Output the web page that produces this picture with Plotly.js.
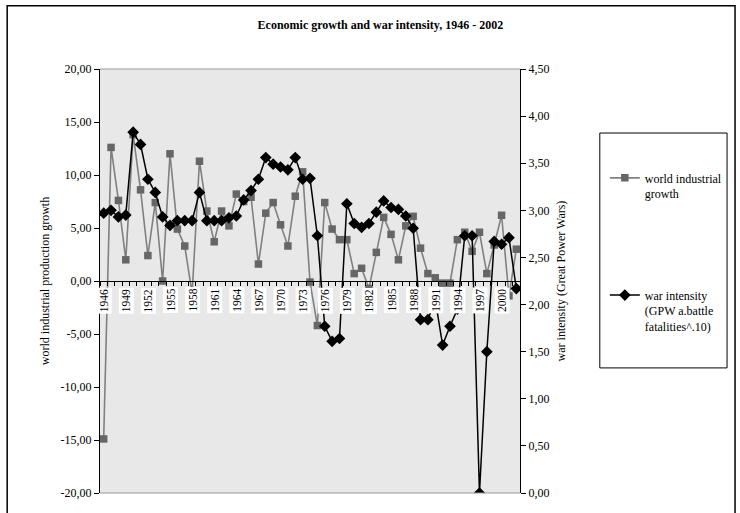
<!DOCTYPE html>
<html><head><meta charset="utf-8">
<script src="https://cdn.plot.ly/plotly-3.0.1.min.js"></script>
<style>html,body{margin:0;padding:0;background:#fff}</style>
</head><body>
<div id="chart" style="width:740px;height:513px"></div>
<script>
const years = ['1946','1947','1948','1949','1950','1951','1952','1953','1954','1955','1956','1957','1958','1959',
'1960','1961','1962','1963','1964','1965','1966','1967','1968','1969','1970','1971','1972','1973','1974','1975',
'1976','1977','1978','1979','1980','1981','1982','1983','1984','1985','1986','1987','1988','1989','1990','1991',
'1992','1993','1994','1995','1996','1997','1998','1999','2000','2001','2002'];
const growth = [-14.9,12.6,7.6,2.0,13.8,8.6,2.4,7.4,0.0,12.0,4.9,3.3,-1.2,11.3,
6.6,3.7,6.6,5.2,8.2,7.5,7.9,1.6,6.4,7.4,5.3,3.3,8.0,10.3,-0.1,-4.2,
7.4,4.9,3.9,3.9,0.7,1.2,-0.7,2.7,6.0,4.4,2.0,5.2,6.1,3.1,0.7,0.3,
-0.2,-0.2,3.9,4.6,2.8,4.6,0.7,3.4,6.2,-1.4,3.0];
const war = [2.97,3.00,2.93,2.95,3.83,3.70,3.33,3.19,2.93,2.84,2.89,2.89,2.89,3.19,
2.89,2.89,2.89,2.92,2.94,3.11,3.21,3.33,3.56,3.49,3.46,3.43,3.56,3.33,3.34,2.73,
1.77,1.61,1.64,3.07,2.86,2.82,2.86,2.98,3.10,3.03,3.01,2.94,2.81,1.84,1.84,2.05,
1.57,1.77,1.95,2.73,2.73,0.00,1.50,2.67,2.64,2.71,2.17];
const leftTickVals = [-20,-15,-10,-5,0,5,10,15,20];
const leftTickText = ['-20,00','-15,00','-10,00','-5,00','0,00','5,00','10,00','15,00','20,00'];
const rightTickVals = [0,0.5,1,1.5,2,2.5,3,3.5,4,4.5];
const rightTickText = ['0,00','0,50','1,00','1,50','2,00','2,50','3,00','3,50','4,00','4,50'];
const labelEvery = 3;
const seriesNames = ['world industrial<br>growth','war intensity<br>(GPW a.battle<br>fatalities^.10)'];

const FONT = 'Liberation Serif';

const traces = [
  {x: years, y: growth, name: seriesNames[0], type:'scatter', mode:'lines+markers',
   line:{color:'#808080', width:1.6}, marker:{symbol:'square', size:7.5, color:'#666666'},
   xaxis:'x', yaxis:'y', legendgroup:'a'},
  {x: years, y: war, name: seriesNames[1], type:'scatter', mode:'lines+markers',
   line:{color:'#000000', width:1.5}, marker:{symbol:'diamond', size:9, color:'#000000'},
   xaxis:'x', yaxis:'y2', legendgroup:'b'}
];

const annotations = [];
years.forEach((y, i) => {
  if (i % labelEvery !== 0) return;
  annotations.push({
    x: i, y: 0, xref:'x', yref:'y', text: y, showarrow:false, textangle:-90,
    yanchor:'top', xanchor:'center', yshift:-6, bgcolor:'#ffffff', borderpad:1,
    font:{family:FONT, size:11.5, color:'#000'}
  });
});

const layout = {
  width:740, height:513,
  margin:{l:100, r:220, t:69, b:20},
  paper_bgcolor:'#ffffff', plot_bgcolor:'#e8e8e8',
  font:{family:FONT, size:12, color:'#000'},
  title:{text:'<b>Economic growth and war intensity, 1946 - 2002</b>', x:0.514, xanchor:'center',
         y:0.951, yanchor:'middle', font:{family:FONT, size:12, color:'#000'}},
  showlegend:true,
  legend:{x:1.202, y:0.777, xanchor:'left', yanchor:'top', bgcolor:'rgba(0,0,0,0)', borderwidth:0,
          tracegroupgap:83, traceorder:'grouped', valign:'top', font:{family:FONT, size:12, color:'#000'}},
  xaxis:{type:'category', categoryarray:years, range:[-0.5,56.5], anchor:'free', position:0.5,
         showline:true, linecolor:'#000', linewidth:1, ticks:'outside', ticklen:4, tickcolor:'#000',
         tickmode:'array', tickvals:years, tickson:'boundaries', showticklabels:false,
         showgrid:false, zeroline:false, fixedrange:true},
  xaxis2:{type:'linear', overlaying:'x', range:[-0.5,56.5], anchor:'free', position:0.5, side:'top',
          ticks:'outside', ticklen:4, tickcolor:'#000', tickmode:'linear', tick0:-0.5, dtick:1,
          showticklabels:false, showline:false, showgrid:false, zeroline:false},
  yaxis:{range:[-20,20], tickmode:'array', tickvals:leftTickVals, ticktext:leftTickText,
         ticks:'outside', ticklen:5, tickcolor:'#000', showline:true, linecolor:'#000', linewidth:1,
         showgrid:false, zeroline:false,
         title:{text:'world industrial production growth', font:{family:FONT, size:12}, standoff:8}},
  yaxis2:{range:[0,4.5], overlaying:'y', side:'right', anchor:'x', tickmode:'array',
          tickvals:rightTickVals, ticktext:rightTickText, ticks:'outside', ticklen:5, tickcolor:'#000',
          showline:true, linecolor:'#000', linewidth:1, showgrid:false, zeroline:false,
          title:{text:'war intensity (Great Power Wars)', font:{family:FONT, size:12}, standoff:8}},
  shapes:[
    {type:'line', xref:'paper', yref:'paper', x0:0, x1:1, y0:1, y1:1, line:{color:'#999999', width:1}},
    {type:'line', xref:'paper', yref:'paper', x0:0, x1:1, y0:0, y1:0, line:{color:'#999999', width:1}},
    {type:'rect', xref:'paper', yref:'paper', x0:-0.221, x1:1.512, y0:-0.1, y1:1.149,
     line:{color:'#000', width:1.5}},
    {type:'rect', xref:'paper', yref:'paper', x0:1.190, x1:1.493, y0:0.295, y1:0.849,
     line:{color:'#000', width:1}}
  ],
  annotations: annotations
};

Plotly.newPlot('chart', traces, layout, {displayModeBar:false, staticPlot:true});
</script>
</body></html>
